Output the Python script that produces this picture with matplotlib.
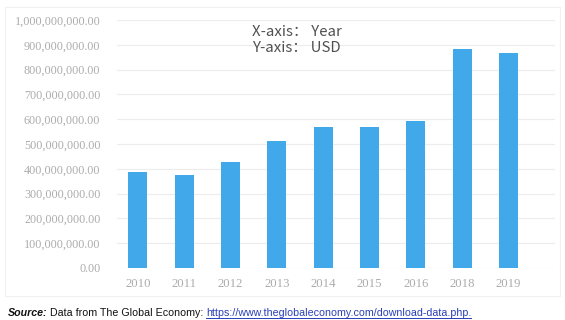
import matplotlib
matplotlib.use("Agg")
import matplotlib.pyplot as plt
from matplotlib.patches import Rectangle
from matplotlib.ticker import FuncFormatter

years = ["2010", "2011", "2012", "2013", "2014", "2015", "2016", "2018", "2019"]
usd = [387e6, 375e6, 426e6, 513e6, 568e6, 568e6, 594e6, 882e6, 866e6]
y_ticks = [i * 100e6 for i in range(11)]

BAR = "#41a8ea"
W, H = 565, 320

fig = plt.figure(figsize=(W / 100, H / 100), dpi=100)
fig.patch.set_facecolor("white")

# faint frame around the chart block
fig.add_artist(Rectangle((5 / W, 1 - 296 / H), 555 / W, 289 / H, transform=fig.transFigure,
                         fill=False, edgecolor="#f0f0f0", linewidth=0.8))

ax = fig.add_axes([117 / W, 1 - 268 / H, (555 - 117) / W, (268 - 20) / H])
x = list(range(len(years)))
ax.bar(x, usd, width=0.41, color=BAR, zorder=3)
ax.set_xlim(-0.45, 9.0)
ax.set_ylim(0, 1e9)
ax.set_yticks(y_ticks)
ax.yaxis.set_major_formatter(FuncFormatter(lambda v, p: f"{v:,.2f}"))
ax.set_xticks(x)
ax.set_xticklabels(years)
ax.grid(True, axis="y", color="#ececec", linewidth=0.8, zorder=0)
for s in ax.spines.values():
    s.set_visible(False)
ax.tick_params(length=0, colors="#acacac", labelsize=8.7, pad=12)
ax.tick_params(axis="x", labelsize=9.2, pad=7)
for lab in ax.get_xticklabels() + ax.get_yticklabels():
    lab.set_family("Liberation Serif")

note_font = ["Noto Sans CJK SC", "DejaVu Sans"]
fig.text(252 / W, 1 - 32 / H, "X-axis： Year", family=note_font,
         fontsize=10.8, color="#505050", va="center", ha="left")
fig.text(252 / W, 1 - 48 / H, "Y-axis： USD", family=note_font,
         fontsize=10.8, color="#505050", va="center", ha="left")

# source line, built piece by piece
renderer = fig.canvas.get_renderer()
ybase = 1 - 316 / H
fs = 7.7
t1 = fig.text(8 / W, ybase, "Source:", family="Liberation Sans", fontsize=fs,
              fontweight="bold", style="italic", color="#111111", va="baseline")
bb = t1.get_window_extent(renderer)
t2 = fig.text(bb.x1 / W + 2 / W, ybase, "Data from The Global Economy: ", family="Liberation Sans",
              fontsize=fs, color="#111111", va="baseline")
bb = t2.get_window_extent(renderer)
t3 = fig.text(bb.x1 / W, ybase, "https://www.theglobaleconomy.com/download-data.php.",
              family="Liberation Sans", fontsize=fs, color="#2a3fb8", va="baseline")
bb = t3.get_window_extent(renderer)
fig.add_artist(plt.Line2D([bb.x0 / W, bb.x1 / W], [ybase - 2 / H, ybase - 2 / H],
                          transform=fig.transFigure, color="#2a3fb8", linewidth=0.7))

fig.savefig("out.png", dpi=100)
plt.close(fig)
